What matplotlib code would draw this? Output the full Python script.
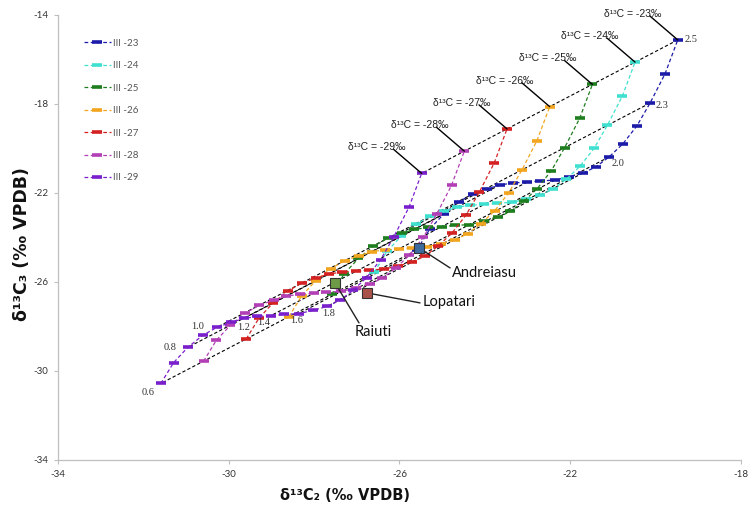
import matplotlib
matplotlib.use("Agg")
import matplotlib.pyplot as plt

# Maturity (Ro, %) of each modelled point along a kerogen curve
ro_values = [0.6, 0.7, 0.8, 0.9, 1.0, 1.1, 1.2, 1.3, 1.4, 1.5,
             1.6, 1.7, 1.8, 1.9, 2.0, 2.1, 2.2, 2.3, 2.4, 2.5]

# Ro levels joined across the kerogen curves
iso_ro = [0.6, 0.8, 1.0, 1.2, 1.4, 1.6, 1.8, 2.0, 2.3, 2.5]

series_names = ["III -23", "III -24", "III -25", "III -26", "III -27", "III -28", "III -29"]
kerogen_d13c = [-23, -24, -25, -26, -27, -28, -29]

# delta13C2 / delta13C3 (per mil VPDB) for each type III kerogen curve
iii23_c2 = [-25.59, -25.29, -24.96, -24.61, -24.28, -23.95, -23.65, -23.34, -23.01, -22.71,
            -22.36, -22.03, -21.70, -21.40, -21.09, -20.77, -20.44, -20.13, -19.78, -19.48]
iii23_c3 = [-24.56, -23.62, -22.94, -22.40, -22.04, -21.82, -21.64, -21.55, -21.51, -21.46,
            -21.42, -21.28, -21.10, -20.83, -20.38, -19.80, -18.99, -17.96, -16.65, -15.12]

iii24_c2 = [-26.59, -26.29, -25.96, -25.61, -25.28, -24.95, -24.65, -24.34, -24.01, -23.71,
            -23.36, -23.03, -22.70, -22.40, -22.09, -21.77, -21.44, -21.13, -20.78, -20.48]
iii24_c3 = [-25.56, -24.62, -23.94, -23.40, -23.04, -22.82, -22.64, -22.55, -22.51, -22.46,
            -22.42, -22.28, -22.10, -21.83, -21.38, -20.80, -19.99, -18.96, -17.65, -16.12]

iii25_c2 = [-27.59, -27.29, -26.96, -26.61, -26.28, -25.95, -25.65, -25.34, -25.01, -24.71,
            -24.36, -24.03, -23.70, -23.40, -23.09, -22.77, -22.44, -22.13, -21.78, -21.48]
iii25_c3 = [-26.56, -25.62, -24.94, -24.40, -24.04, -23.82, -23.64, -23.55, -23.51, -23.46,
            -23.42, -23.28, -23.10, -22.83, -22.38, -21.80, -20.99, -19.96, -18.65, -17.12]

iii26_c2 = [-28.59, -28.29, -27.96, -27.61, -27.28, -26.95, -26.65, -26.34, -26.01, -25.71,
            -25.36, -25.03, -24.70, -24.40, -24.09, -23.77, -23.44, -23.13, -22.78, -22.48]
iii26_c3 = [-27.56, -26.62, -25.94, -25.40, -25.04, -24.82, -24.64, -24.55, -24.51, -24.46,
            -24.42, -24.28, -24.10, -23.83, -23.38, -22.80, -21.99, -20.96, -19.65, -18.12]

iii27_c2 = [-29.59, -29.29, -28.96, -28.61, -28.28, -27.95, -27.65, -27.34, -27.01, -26.71,
            -26.36, -26.03, -25.70, -25.40, -25.09, -24.77, -24.44, -24.13, -23.78, -23.48]
iii27_c3 = [-28.56, -27.62, -26.94, -26.40, -26.04, -25.82, -25.64, -25.55, -25.51, -25.46,
            -25.42, -25.28, -25.10, -24.83, -24.38, -23.80, -22.99, -21.96, -20.65, -19.12]

iii28_c2 = [-30.59, -30.29, -29.96, -29.61, -29.28, -28.95, -28.65, -28.34, -28.01, -27.71,
            -27.36, -27.03, -26.70, -26.40, -26.09, -25.77, -25.44, -25.13, -24.78, -24.48]
iii28_c3 = [-29.56, -28.62, -27.94, -27.40, -27.04, -26.82, -26.64, -26.55, -26.51, -26.46,
            -26.42, -26.28, -26.10, -25.83, -25.38, -24.80, -23.99, -22.96, -21.65, -20.12]

iii29_c2 = [-31.59, -31.29, -30.96, -30.61, -30.28, -29.95, -29.65, -29.34, -29.01, -28.71,
            -28.36, -28.03, -27.70, -27.40, -27.09, -26.77, -26.44, -26.13, -25.78, -25.48]
iii29_c3 = [-30.56, -29.62, -28.94, -28.40, -28.04, -27.82, -27.64, -27.55, -27.51, -27.46,
            -27.42, -27.28, -27.10, -26.83, -26.38, -25.80, -24.99, -23.96, -22.65, -21.12]

series_c2 = [iii23_c2, iii24_c2, iii25_c2, iii26_c2, iii27_c2, iii28_c2, iii29_c2]
series_c3 = [iii23_c3, iii24_c3, iii25_c3, iii26_c3, iii27_c3, iii28_c3, iii29_c3]
series_colors = ["#1c1ca8", "#3fe0cf", "#1e7d1e", "#f2a51f", "#d42222", "#b23fb5", "#7a1fcc"]

# Measured gas samples
sample_names = ["Andreiasu", "Lopatari", "Raiuti"]
sample_c2 = [-25.54, -26.76, -27.51]
sample_c3 = [-24.47, -26.49, -26.04]
sample_colors = ["#3d6b9e", "#a9524a", "#6e9b45"]
# label / leader offsets in pixels from each sample marker
sample_text_off = [(33, -25), (56, -9), (20, -49)]
sample_line_off = [(31, -20), (53, -10), (24, -40)]

# Ro label placement (pixels) relative to the point it names
ro_label_off = {0.6: (-13, -9), 0.8: (-18, 0), 1.0: (-19, 1), 1.2: (0, -9),
                1.4: (-7, -7), 1.6: (-2, -7), 1.8: (2, -7),
                2.0: (9, -7), 2.3: (12, -2), 2.5: (13, 0)}

fig = plt.figure(figsize=(7.53, 5.08), dpi=100)
ax = fig.add_axes([0.077, 0.0945, 0.907, 0.876])

dash = (0, (3, 2))

# Ro iso-lines joining equal-maturity points of all kerogen curves
for ro in iso_ro:
    i = ro_values.index(ro)
    xs = [c2[i] for c2 in series_c2]
    ys = [c3[i] for c3 in series_c3]
    ax.plot(xs, ys, linestyle=dash, color="black", lw=0.8, zorder=2)

# Kerogen curves
for name, c2, c3, col in zip(series_names, series_c2, series_c3, series_colors):
    ax.plot(c2, c3, linestyle=dash, color=col, lw=0.9, marker="_",
            markersize=7, markeredgewidth=2.6, label=name, zorder=3)

# Ro labels: low maturities on the -29 curve, high maturities on the -23 curve
for ro in iso_ro:
    i = ro_values.index(ro)
    if ro < 2.0:
        px, py = iii29_c2[i], iii29_c3[i]
    else:
        px, py = iii23_c2[i], iii23_c3[i]
    ax.annotate(f"{ro:.1f}", xy=(px, py), xytext=ro_label_off[ro],
                textcoords="offset pixels", ha="center", va="center",
                fontsize=7.5, family="Liberation Serif", color="#333333", zorder=5)

# Kerogen d13C labels with leader lines to the Ro 2.5 end of each curve
for k, c2, c3 in zip(kerogen_d13c, series_c2, series_c3):
    top = (c2[-1], c3[-1])
    ax.annotate("", xy=top, xytext=(-28, 24), textcoords="offset pixels",
                arrowprops=dict(arrowstyle="-", color="black", lw=1.0,
                                shrinkA=0, shrinkB=0), zorder=4)
    ax.annotate(f"δ¹³C = {k}‰", xy=top, xytext=(-45, 26), textcoords="offset pixels",
                ha="center", va="center", fontsize=7.5, family="Liberation Sans",
                color="#222222", zorder=5)

# Samples
for name, x, y, col, toff, loff in zip(sample_names, sample_c2, sample_c3, sample_colors,
                                       sample_text_off, sample_line_off):
    ax.annotate("", xy=(x, y), xytext=loff, textcoords="offset pixels",
                arrowprops=dict(arrowstyle="-", color="#222222", lw=1.0,
                                shrinkA=0, shrinkB=0), zorder=6)
    ax.plot([x], [y], marker="s", markersize=7, color=col, markeredgecolor="#333333",
            markeredgewidth=0.8, linestyle="none", zorder=7)
    ax.annotate(name, xy=(x, y), xytext=toff, textcoords="offset pixels",
                ha="left", va="center", fontsize=10.5, family="Lato", color="#111111",
                zorder=7)

ax.set_xlim(-34, -18)
ax.set_ylim(-34, -14)
ax.set_xticks([-34, -30, -26, -22, -18])
ax.set_yticks([-34, -30, -26, -22, -18, -14])
ax.set_xticklabels(["-34", "-30", "-26", "-22", "-18"])
ax.set_yticklabels(["-34", "-30", "-26", "-22", "-18", "-14"])
for lab in ax.get_xticklabels() + ax.get_yticklabels():
    lab.set_fontfamily("Lato")
    lab.set_fontsize(7)
    lab.set_color("#333333")
ax.tick_params(axis="both", length=3, width=0.8, color="#bfbfbf", pad=4)

for side in ("top", "right"):
    ax.spines[side].set_visible(False)
for side in ("left", "bottom"):
    ax.spines[side].set_color("#bfbfbf")
    ax.spines[side].set_linewidth(0.9)

ax.set_xlabel("δ¹³C₂ (‰ VPDB)", va="center", fontsize=10.5, fontweight="bold",
              family="DejaVu Sans", color="#111111")
ax.set_ylabel("δ¹³C₃ (‰ VPDB)", va="center", fontsize=12.5, fontweight="bold",
              family="DejaVu Sans", color="#111111")
ax.xaxis.set_label_coords(0.42, -0.08)
ax.yaxis.set_label_coords(-0.052, 0.486)

leg = ax.legend(loc="upper left", bbox_to_anchor=(0.025, 0.966), frameon=False,
                handlelength=2.8, handletextpad=0.2, labelspacing=1.38,
                prop={"family": "Lato", "size": 7})
for t in leg.get_texts():
    t.set_color("#555555")

fig.savefig("out.png", dpi=100)
